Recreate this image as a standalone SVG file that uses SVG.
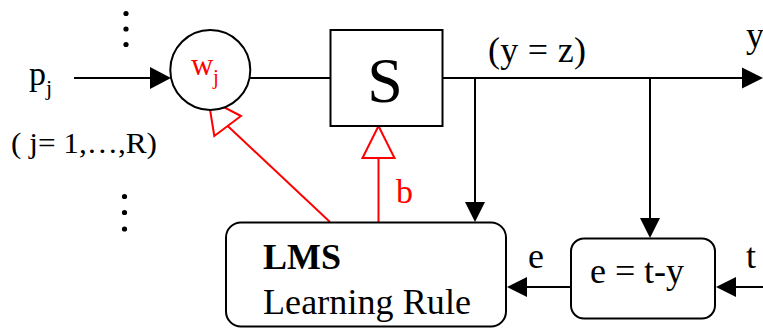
<svg xmlns="http://www.w3.org/2000/svg" width="763" height="331" viewBox="0 0 763 331">
<style>
text{font-family:"Liberation Serif","Times New Roman",serif;fill:#000}
.red{fill:#ff0000}
.ln{stroke:#000;stroke-width:2;fill:none}
.rl{stroke:#ff0000;stroke-width:2;fill:none}
.box{stroke:#000;stroke-width:2;fill:#fff}
.ah{fill:#000;stroke:none}
.hol{fill:#fff;stroke:#ff0000;stroke-width:2}
</style>
<rect width="763" height="331" fill="#fff"/>
<g id="connectors">
<line class="ln" x1="74" y1="78" x2="152" y2="78"/>
<polygon class="ah" points="171,78 150,67 150,89"/>
<line class="ln" x1="250" y1="78" x2="330" y2="78"/>
<line class="ln" x1="442" y1="78" x2="745" y2="78"/>
<polygon class="ah" points="763,78 742,67.5 742,88.5"/>
<line class="ln" x1="475" y1="78" x2="475" y2="205"/>
<polygon class="ah" points="475,222 465,202 485,202"/>
<line class="ln" x1="650" y1="78" x2="650" y2="221"/>
<polygon class="ah" points="650,238 640,218 660,218"/>
<line class="ln" x1="763" y1="287" x2="733" y2="287"/>
<polygon class="ah" points="716,287 736,277 736,297"/>
<line class="ln" x1="571" y1="287" x2="524" y2="287"/>
<polygon class="ah" points="507,287 527,277 527,297"/>
<line class="rl" x1="330" y1="222" x2="227.7" y2="126"/>
<polygon class="hol" points="208.3,99 214.3,136 241,116"/>
<line class="rl" x1="378.5" y1="222" x2="378.5" y2="158"/>
<polygon class="hol" points="378.5,126 362.5,158 394.5,158"/>
</g>
<g id="dots-top">
<circle cx="126" cy="13.5" r="2.6"/>
<circle cx="126" cy="29" r="2.6"/>
<circle cx="126" cy="44.5" r="2.6"/>
</g>
<g id="dots-bottom">
<circle cx="124.5" cy="196.5" r="2.6"/>
<circle cx="124.5" cy="212.5" r="2.6"/>
<circle cx="124.5" cy="229" r="2.6"/>
</g>
<g id="input">
<text x="29" y="85" font-size="34">p</text>
<text x="46" y="95" font-size="22">j</text>
<text x="11" y="153" font-size="29.5" textLength="146" lengthAdjust="spacingAndGlyphs">( j= 1,…,R)</text>
</g>
<g id="weight">
<circle class="box" cx="210.3" cy="70" r="40"/>
<text class="red" x="191" y="75" font-size="31">w</text>
<text class="red" x="213" y="84" font-size="21">j</text>
</g>
<g id="sum">
<rect class="box" x="330.5" y="30" width="112" height="96"/>
<text x="385" y="102" font-size="64" text-anchor="middle">S</text>
</g>
<g id="labels">
<text x="488" y="62" font-size="36" textLength="98" lengthAdjust="spacing">(y = z)</text>
<text x="746" y="47" font-size="36">y</text>
<text class="red" x="396" y="203" font-size="34">b</text>
<text x="528" y="268" font-size="36">e</text>
<text x="746" y="268" font-size="36">t</text>
</g>
<g id="lms">
<rect class="box" x="226" y="222.5" width="280" height="104" rx="15"/>
<text x="263" y="269" font-size="36" font-weight="bold">LMS</text>
<text x="263" y="314" font-size="36" textLength="208" lengthAdjust="spacing">Learning Rule</text>
</g>
<g id="error">
<rect class="box" x="571" y="238.5" width="144" height="80" rx="13"/>
<text x="590" y="283" font-size="36" textLength="94" lengthAdjust="spacing">e = t-y</text>
</g>
</svg>
